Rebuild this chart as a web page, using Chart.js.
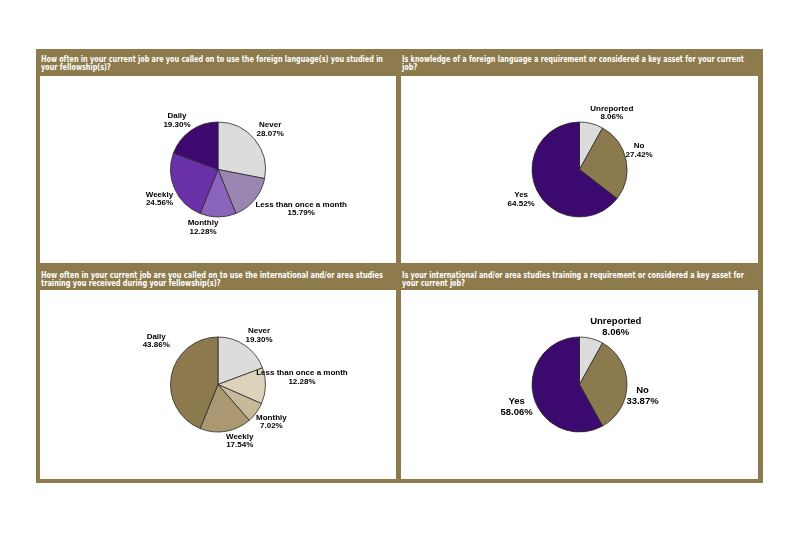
<!DOCTYPE html>
<html>
<head>
<meta charset="utf-8">
<script src="https://cdn.jsdelivr.net/npm/chart.js@4.4.1/dist/chart.umd.min.js"></script>
<style>
  html, body { margin: 0; padding: 0; background: #ffffff; }
  body { width: 800px; height: 534px; position: relative; overflow: hidden; }
  #frame { position: absolute; left: 36px; top: 49px; width: 727px; height: 434px; background: #8D7B4D; }
  .white { position: absolute; background: #ffffff; }
  .hdr { position: absolute; color: #ffffff; font-family: "Liberation Sans Narrow", "DejaVu Sans Condensed", "DejaVu Sans", sans-serif; font-weight: bold;
         font-size: 9px; line-height: 8.4px; white-space: nowrap; }
  .hdr span { display: block; transform-origin: 0 50%; }
  canvas { position: absolute; }
</style>
</head>
<body>
<div id="frame"></div>
<div class="white" style="left:40px;top:76px;width:356px;height:187px"></div>
<div class="white" style="left:401px;top:76px;width:357px;height:187px"></div>
<div class="white" style="left:40px;top:290px;width:356px;height:189px"></div>
<div class="white" style="left:401px;top:290px;width:357px;height:189px"></div>

<div class="hdr" style="left:41px;top:55px"><span class="l1">How often in your current job are you called on to use the foreign language(s) you studied in</span><span>your fellowship(s)?</span></div>
<div class="hdr" style="left:402px;top:55px"><span class="l1">Is knowledge of a foreign language a requirement or considered a key asset for your current</span><span>job?</span></div>
<div class="hdr" style="left:41px;top:271px"><span class="l1">How often in your current job are you called on to use the international and/or area studies</span><span>training you received during your fellowship(s)?</span></div>
<div class="hdr" style="left:402px;top:271px"><span class="l1">Is your international and/or area studies training a requirement or considered a key asset for</span><span>your current job?</span></div>

<canvas id="c1" width="356" height="187" style="left:40px;top:76px"></canvas>
<canvas id="c2" width="357" height="187" style="left:401px;top:76px"></canvas>
<canvas id="c3" width="356" height="189" style="left:40px;top:290px"></canvas>
<canvas id="c4" width="357" height="189" style="left:401px;top:290px"></canvas>

<script>
// ---- Data ----
const freqCategories = ['Never', 'Less than once a month', 'Monthly', 'Weekly', 'Daily'];
const reqCategories = ['Unreported', 'No', 'Yes'];
const langFreqValues = [28.07, 15.79, 12.28, 24.56, 19.30];
const langReqValues = [8.06, 27.42, 64.52];
const areaFreqValues = [19.30, 12.28, 7.02, 17.54, 43.86];
const areaReqValues = [8.06, 33.87, 58.06];

// ---- Styles ----
const purpleFreqColors = ['#DCDCDC', '#9A86B0', '#8A64BC', '#6A30A8', '#3E0A72'];
const brownFreqColors = ['#DCDCDC', '#DDD3BD', '#C7B999', '#AB9872', '#8C7A4E'];
const reqColors = ['#DCDCDC', '#8B7A4D', '#3C0A6E'];

// label nudges (pixels) relative to radial placement
const nudges1 = [[2, 1], [33, -2], [-15, -7], [1, 3], [-4, 4]];
const nudges2 = [[16, 6], [-4, -6], [0, 1]];
const nudges3 = [[4, 4], [19, -9], [1, -1], [11, -8], [2, -31]];
const nudges4 = [[20, 5], [-2, 11], [0, 6]];

// fit header first lines
document.querySelectorAll('.hdr').forEach(h => {
  const l1 = h.querySelector('.l1');
  const w = l1.getBoundingClientRect().width;
  const target = 342;
  const s = target / w;
  h.querySelectorAll('span').forEach(sp => sp.style.transform = 'scaleX(' + s + ')');
});

const labelPlugin = {
  id: 'pieLabels',
  afterDatasetsDraw(chart, args, opts) {
    const ctx = chart.ctx;
    const meta = chart.getDatasetMeta(0);
    const data = chart.data.datasets[0].data;
    const labels = chart.data.labels;
    ctx.save();
    ctx.fillStyle = '#000000';
    ctx.font = 'bold ' + opts.fontSize + 'px "Liberation Sans", Arial, sans-serif';
    ctx.textAlign = 'center';
    ctx.textBaseline = 'middle';
    meta.data.forEach((arc, i) => {
      const p = arc.getProps(['x', 'y', 'startAngle', 'endAngle', 'outerRadius'], true);
      const mid = (p.startAngle + p.endAngle) / 2;
      const d = p.outerRadius + opts.dist;
      const n = opts.nudges[i] || [0, 0];
      const cx = p.x + Math.cos(mid) * d + n[0];
      const cy = p.y + Math.sin(mid) * d + n[1];
      const lh = opts.lineHeight;
      ctx.fillText(labels[i], cx, cy - lh / 2);
      ctx.fillText(data[i].toFixed(2) + '%', cx, cy + lh / 2);
    });
    ctx.restore();
  }
};

function makePie(id, labels, values, colors, nudges, fontSize, lineHeight) {
  return new Chart(document.getElementById(id), {
    type: 'pie',
    data: {
      labels: labels,
      datasets: [{
        data: values,
        backgroundColor: colors,
        borderColor: '#2a2a2a',
        borderWidth: 0.8,
        radius: 47.5
      }]
    },
    options: {
      responsive: false,
      animation: false,
      layout: { padding: 0 },
      plugins: {
        legend: { display: false },
        tooltip: { enabled: false },
        pieLabels: { dist: 17.5, nudges: nudges, fontSize: fontSize, lineHeight: lineHeight }
      }
    },
    plugins: [labelPlugin]
  });
}

makePie('c1', freqCategories, langFreqValues, purpleFreqColors, nudges1, 8, 8.5);
makePie('c2', reqCategories, langReqValues, reqColors, nudges2, 8, 8.5);
makePie('c3', freqCategories, areaFreqValues, brownFreqColors, nudges3, 8, 8.5);
makePie('c4', reqCategories, areaReqValues, reqColors, nudges4, 9.5, 11);
</script>
</body>
</html>
